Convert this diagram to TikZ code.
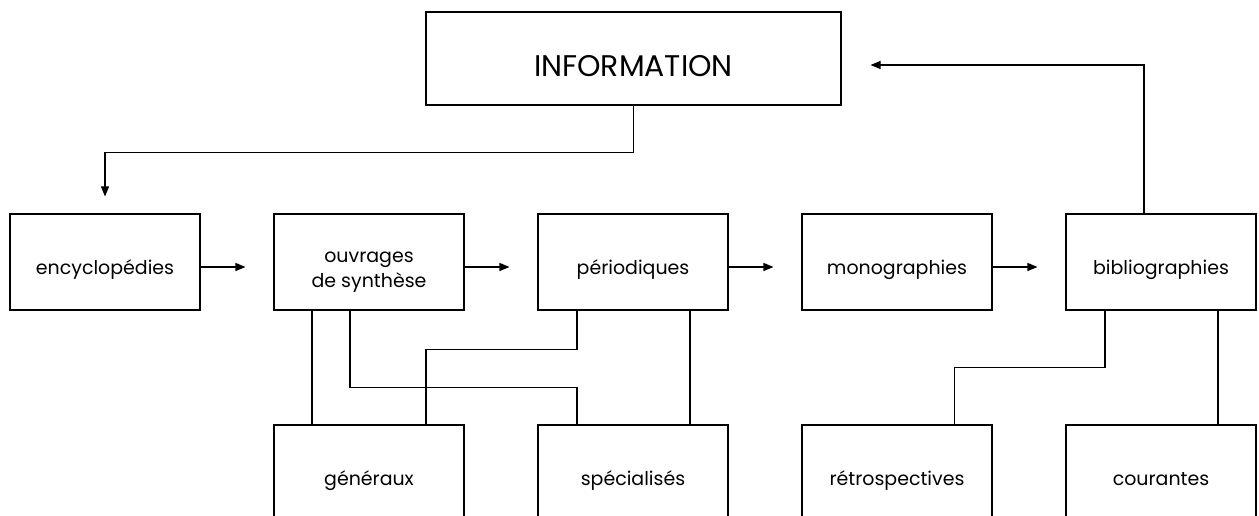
\documentclass[tikz,border=0pt]{standalone}
\usepackage{fontspec}
\setmainfont{Poppins}
\usepackage{tikz}
\usetikzlibrary{arrows.meta}

\tikzset{
  box/.style={draw, line width=0.6pt, minimum width=3.8cm, minimum height=1.92cm,
    inner sep=0pt, align=center, text height=0.56cm, text depth=0.08cm,
    font=\fontsize{10.8}{14.2}\selectfont},
  link/.style={line width=0.6pt},
  arr/.style={line width=0.6pt, -{Triangle[length=2mm, width=1.6mm]}}
}

\begin{document}
\begin{tikzpicture}
\useasboundingbox (0, 0) rectangle (25.18, 10.3);

\node[box, minimum width=8.3cm, minimum height=1.86cm, text height=0.74cm, text depth=0cm,
  font=\fontsize{17}{20}\selectfont] (info) at (12.67, 9.13) {INFORMATION};

\node[box] (enc) at (2.1, 5.06) {encyclopédies};
\node[box, text height=1.08cm, text depth=0.08cm] (ouv) at (7.38, 5.06) {ouvrages\\de synthèse};
\node[box] (per) at (12.66, 5.06) {périodiques};
\node[box] (mon) at (17.94, 5.06) {monographies};
\node[box] (bib) at (23.22, 5.06) {bibliographies};

\node[box] (gen) at (7.38, 0.84) {généraux};
\node[box] (spe) at (12.66, 0.84) {spécialisés};
\node[box] (ret) at (17.94, 0.84) {rétrospectives};
\node[box] (cou) at (23.22, 0.84) {courantes};

\draw[arr] (info.south) -- ++(0, -0.94) -| ([yshift=3.4mm]enc.north);
\draw[arr] ([xshift=-3.4mm]bib.north) |- ([xshift=5.8mm, yshift=-1.3mm]info.east);

\foreach \a/\b in {enc/ouv, ouv/per, per/mon, mon/bib}
  \draw[arr] ([yshift=-1mm]\a.east) -- ([xshift=-5.6mm, yshift=-1mm]\b.west);

\draw[link] ([xshift=-11.4mm]ouv.south) -- ([xshift=-11.4mm]gen.north);
\draw[link] ([xshift=-3.8mm]ouv.south) -- ++(0, -1.54) -| ([xshift=-11.2mm]spe.north);
\draw[link] ([xshift=-11.2mm]per.south) -- ++(0, -0.78) -| ([xshift=11.4mm]gen.north);
\draw[link] ([xshift=11.4mm]per.south) -- ([xshift=11.4mm]spe.north);
\draw[link] ([xshift=-11.2mm]bib.south) -- ++(0, -1.14) -| ([xshift=11.5mm]ret.north);
\draw[link] ([xshift=11.4mm]bib.south) -- ([xshift=11.4mm]cou.north);
\end{tikzpicture}
\end{document}
